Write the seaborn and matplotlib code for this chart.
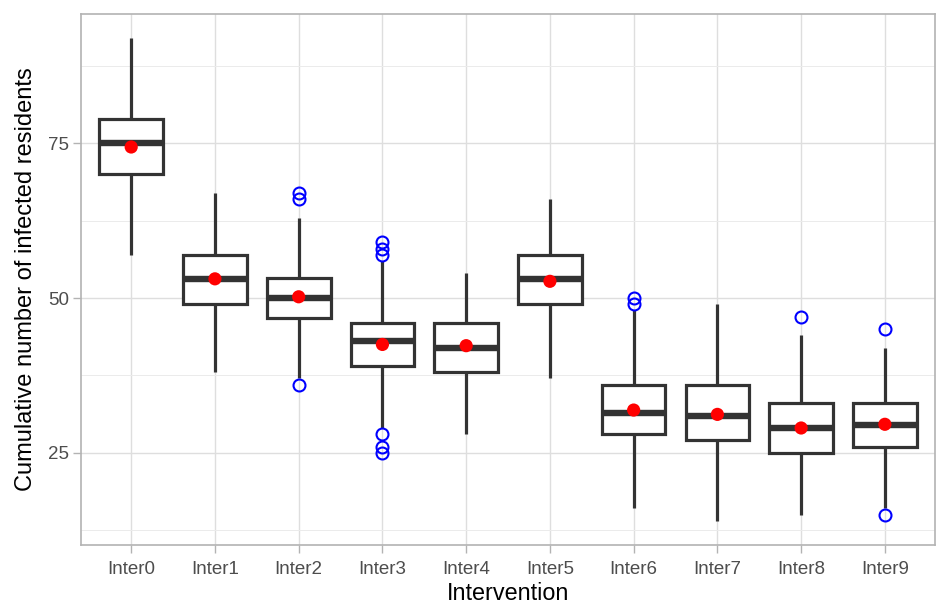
import matplotlib
matplotlib.use("Agg")
import matplotlib.pyplot as plt
from matplotlib.ticker import FixedLocator
import numpy as np
import seaborn as sns

# Summary statistics per intervention scenario
categories = ["Inter0", "Inter1", "Inter2", "Inter3", "Inter4",
              "Inter5", "Inter6", "Inter7", "Inter8", "Inter9"]
whisker_low = [57, 38, 37, 29, 28, 37, 16, 14, 15, 16]
q1 = [70, 49, 46.75, 39, 38, 49, 28, 27, 25, 26]
median = [75, 53, 50, 43, 42, 53, 31.5, 31, 29, 29.5]
q3 = [79, 57, 53.25, 46, 46, 57, 36, 36, 33, 33]
whisker_high = [92, 67, 63, 56, 54, 66, 48, 49, 44, 42]
means = [74.4, 53.1, 50.2, 42.5, 42.3, 52.7, 31.9, 31.2, 29.0, 29.6]
outliers = [[], [], [67, 66, 36], [59, 58, 57, 28, 26, 25], [],
            [], [50, 49], [], [47], [45, 15]]

y_ticks = [25, 50, 75]
y_minor = [12.5, 37.5, 62.5, 87.5]

sns.set_theme(style="whitegrid")
plt.rcParams["font.family"] = ["Liberation Sans", "DejaVu Sans"]

fig = plt.figure(figsize=(9.37, 6.06), dpi=100)
ax = fig.add_axes([0.0864, 0.1007, 0.9116, 0.8763])

positions = np.arange(len(categories))
stats = []
for i, name in enumerate(categories):
    stats.append(dict(label=name, whislo=whisker_low[i], q1=q1[i], med=median[i],
                      q3=q3[i], whishi=whisker_high[i], fliers=outliers[i]))

box_col = "#333333"
ax.bxp(stats, positions=positions, widths=0.76, showcaps=False, patch_artist=True,
       boxprops=dict(facecolor="white", edgecolor=box_col, linewidth=2.3),
       whiskerprops=dict(color=box_col, linewidth=2.3, solid_capstyle="butt"),
       medianprops=dict(color=box_col, linewidth=4.6, solid_capstyle="butt"),
       flierprops=dict(marker="o", markerfacecolor="none", markeredgecolor="#0000FF",
                       markersize=8.6, markeredgewidth=1.5),
       zorder=3)

sns.scatterplot(x=positions, y=means, color="#FF0000", s=90, edgecolor="none",
                zorder=5, ax=ax)

ax.set_xlim(-0.6, len(categories) - 0.4)
ax.set_ylim(10.1, 95.9)
ax.set_xticks(positions)
ax.set_xticklabels(categories)
ax.yaxis.set_major_locator(FixedLocator(y_ticks))
ax.yaxis.set_minor_locator(FixedLocator(y_minor))

ax.grid(True, which="major", color="#DEDEDE", linewidth=1.0)
ax.grid(True, which="minor", axis="y", color="#EBEBEB", linewidth=0.7)
ax.set_axisbelow(True)

for side in ax.spines.values():
    side.set_visible(True)
    side.set_color("#B3B3B3")
    side.set_linewidth(1.2)

ax.tick_params(axis="both", which="major", length=5.5, width=1.0, color="#B3B3B3",
               labelsize=13.5, labelcolor="#4D4D4D", bottom=True, left=True)
ax.tick_params(axis="x", which="major", pad=6)
ax.tick_params(axis="y", which="major", pad=3)
ax.tick_params(axis="y", which="minor", length=0)

ax.set_xlabel("Intervention", fontsize=16.8, color="black", labelpad=3)
ax.set_ylabel("Cumulative number of infected residents", fontsize=17, color="black",
              labelpad=8)

fig.savefig("out.png", dpi=100, facecolor="white")
